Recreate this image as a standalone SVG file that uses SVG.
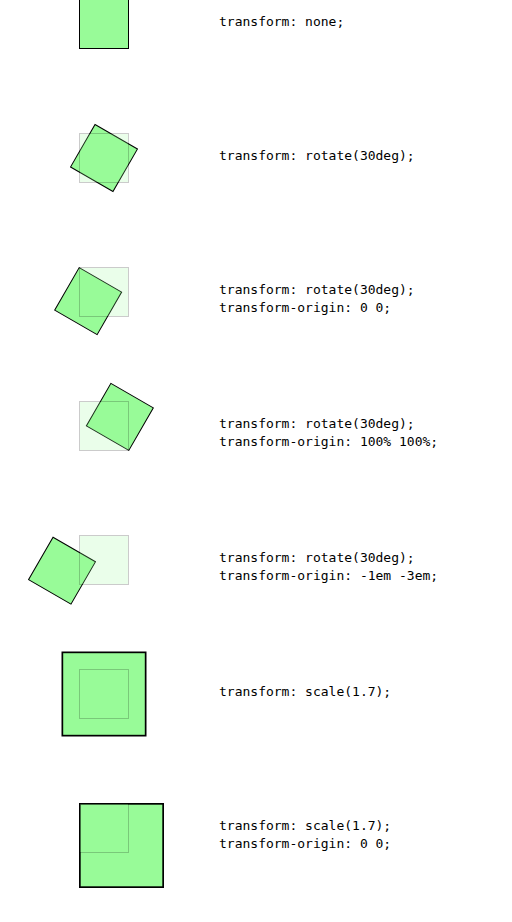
<svg xmlns="http://www.w3.org/2000/svg" xmlns:xlink="http://www.w3.org/1999/xlink" width="512" height="922" viewBox="0 0 512 922">
<style>
.box{fill:#98fb98;stroke:#000;stroke-width:1}
.ghost{fill:#98fb98;stroke:#000;stroke-width:1;opacity:0.2}
text{font-family:"DejaVu Sans Mono","Liberation Mono",monospace;font-size:13px;fill:#000}
</style>
<defs>
<rect id="sq" x="79.5" y="-0.5" width="49" height="49"/>
</defs>
<rect width="512" height="922" fill="#fff"/>
<g id="row1">
<use xlink:href="#sq" class="box"/>
<use xlink:href="#sq" class="ghost"/>
<text x="219" y="26">transform: none;</text>
</g>
<g id="row2" transform="translate(0,134)">
<use xlink:href="#sq" class="box" transform="rotate(30 104 24)"/>
<use xlink:href="#sq" class="ghost"/>
<text x="219" y="26">transform: rotate(30deg);</text>
</g>
<g id="row3" transform="translate(0,268)">
<use xlink:href="#sq" class="box" transform="rotate(30 79 -1)"/>
<use xlink:href="#sq" class="ghost"/>
<text x="219" y="26">transform: rotate(30deg);</text>
<text x="219" y="44">transform-origin: 0 0;</text>
</g>
<g id="row4" transform="translate(0,402)">
<use xlink:href="#sq" class="box" transform="rotate(30 129 49)"/>
<use xlink:href="#sq" class="ghost"/>
<text x="219" y="26">transform: rotate(30deg);</text>
<text x="219" y="44">transform-origin: 100% 100%;</text>
</g>
<g id="row5" transform="translate(0,536)">
<use xlink:href="#sq" class="box" transform="rotate(30 63 -49)"/>
<use xlink:href="#sq" class="ghost"/>
<text x="219" y="26">transform: rotate(30deg);</text>
<text x="219" y="44">transform-origin: -1em -3em;</text>
</g>
<g id="row6" transform="translate(0,670)">
<use xlink:href="#sq" class="box" transform="translate(104 24) scale(1.7) translate(-104 -24)"/>
<use xlink:href="#sq" class="ghost"/>
<text x="219" y="26">transform: scale(1.7);</text>
</g>
<g id="row7" transform="translate(0,804)">
<use xlink:href="#sq" class="box" transform="translate(79 -1) scale(1.7) translate(-79 1)"/>
<use xlink:href="#sq" class="ghost"/>
<text x="219" y="26">transform: scale(1.7);</text>
<text x="219" y="44">transform-origin: 0 0;</text>
</g>
</svg>
